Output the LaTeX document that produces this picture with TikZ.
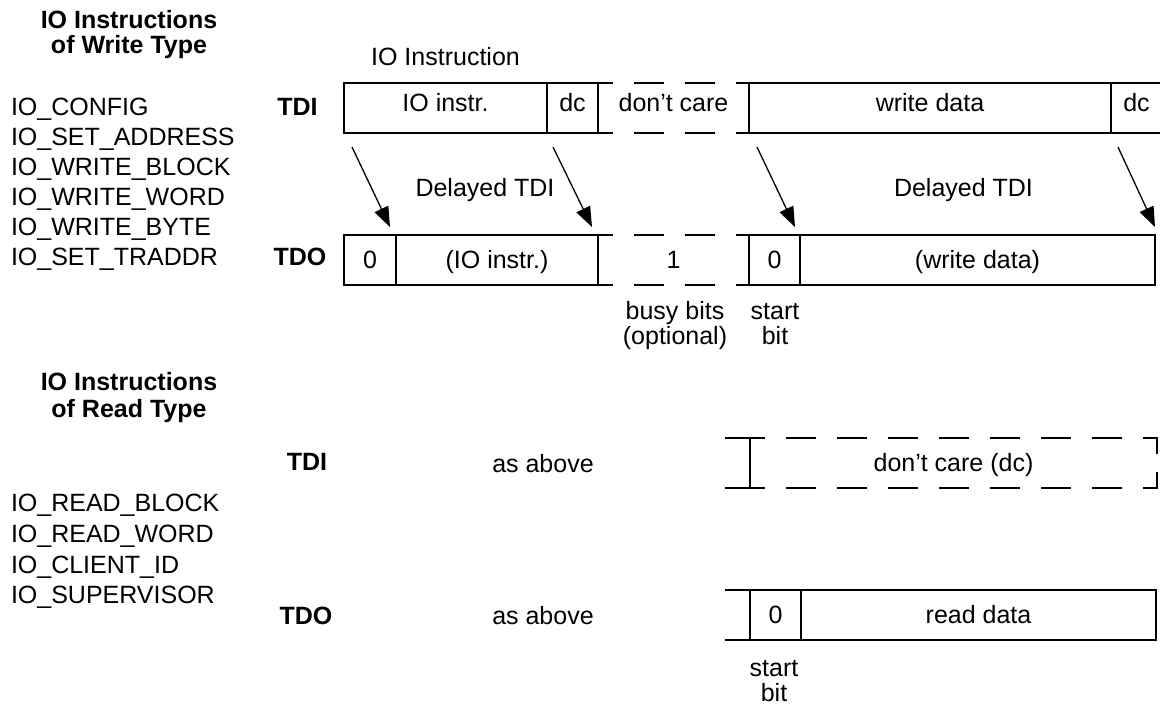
\documentclass[tikz,border=0pt]{standalone}
\usepackage{fontspec}
\setmainfont{Liberation Sans}
\usetikzlibrary{arrows.meta}

\begin{document}
\begin{tikzpicture}[
    x=1pt, y=-1pt,
    font=\fontsize{25}{29}\selectfont,
    lbl/.style={inner sep=0pt, outer sep=0pt, text height=17.9pt, text depth=0pt},
    head/.style={lbl, font=\fontsize{25}{29}\selectfont\bfseries},
    cell/.style={lbl, draw, line width=2pt, minimum height=50pt},
    gapcell/.style={lbl, minimum height=50pt},
    tdicell/.style={text depth=10pt},
    dcline/.style={line width=2pt, dash pattern=on 30pt off 21pt, dash phase=15pt},
    delay/.style={line width=1.3pt, -{Triangle[length=20pt, width=15pt]}}
]
    \useasboundingbox (0,0) rectangle (1160,705);

    % write type instructions
    \node[head] (hwa) at (129,19.5) {IO Instructions};
    \node[head] (hwb) at (129,44.5) {of Write Type};
    \foreach \cmd [count=\i from 0] in {IO\_CONFIG, IO\_SET\_ADDRESS, IO\_WRITE\_BLOCK,
        IO\_WRITE\_WORD, IO\_WRITE\_BYTE, IO\_SET\_TRADDR}
        \node[lbl, anchor=west] (w\i) at (11,107+30*\i) {\cmd};

    \node[lbl] (io) at (445.5,57) {IO Instruction};
    \node[head] (tdiw) at (297.5,107) {TDI};
    \node[head] (tdow) at (300,257) {TDO};

    % TDI shift-in
    \node[cell, tdicell, minimum width=203pt] (instr) at (445.5,108) {IO instr.};
    \node[cell, tdicell, minimum width=51pt] (dca) at (572.5,108) {dc};
    \node[gapcell, tdicell, minimum width=151pt] (dcare) at (673.5,108) {don’t care};
    \node[cell, tdicell, minimum width=362pt] (wdata) at (930,108) {write data};
    \node[cell, tdicell, minimum width=51pt] (dcb) at (1136.5,108) {dc};
    \draw[dcline] (dcare.north west) -- (dcare.north east);
    \draw[dcline] (dcare.south west) -- (dcare.south east);

    % TDO shift-out
    \node[cell, minimum width=52pt] (zero) at (370,260) {0};
    \node[cell, minimum width=202pt] (instrd) at (497,260) {(IO instr.)};
    \node[gapcell, minimum width=151pt] (busy) at (673.5,260) {1};
    \node[cell, minimum width=51pt] (start) at (774.5,260) {0};
    \node[cell, minimum width=355pt] (wdatad) at (977.5,260) {(write data)};
    \draw[dcline] (busy.north west) -- (busy.north east);
    \draw[dcline] (busy.south west) -- (busy.south east);

    % delayed copies
    \draw[delay] ([xshift=8pt, yshift=-14pt]instr.south west) -- ([xshift=-6pt, yshift=8pt]zero.north east);
    \draw[delay] ([xshift=6pt, yshift=-14pt]dca.south west) -- ([xshift=-6pt, yshift=8pt]instrd.north east);
    \draw[delay] ([xshift=8pt, yshift=-14pt]wdata.south west) -- ([xshift=-5pt, yshift=8pt]start.north east);
    \draw[delay] ([xshift=7pt, yshift=-14pt]dcb.south west) -- ([yshift=8pt]wdatad.north east);
    \node[lbl] (dly1) at (485,187.5) {Delayed TDI};
    \node[lbl] (dly2) at (963.5,187.5) {Delayed TDI};

    \node[lbl] (busya) at (675,311) {busy bits};
    \node[lbl] (busyb) at (675,336) {(optional)};
    \node[lbl] (starta) at (775,311) {start};
    \node[lbl] (startb) at (775,336) {bit};

    % read type instructions
    \node[head] (hra) at (129,381.5) {IO Instructions};
    \node[head] (hrb) at (129,409) {of Read Type};
    \foreach \cmd [count=\i from 0] in {IO\_READ\_BLOCK, IO\_READ\_WORD, IO\_CLIENT\_ID, IO\_SUPERVISOR}
        \node[lbl, anchor=west] (r\i) at (11,502.5+30.8*\i) {\cmd};

    \node[head] (tdir) at (307,462) {TDI};
    \node[head] (tdor) at (306,615.5) {TDO};
    \node[lbl] (asa) at (543,464) {as above};
    \node[lbl] (asb) at (543,616) {as above};

    % TDI: don't care
    \node[gapcell, minimum width=407pt] (rdc) at (953.5,463) {don’t care (dc)};
    \draw[line width=2pt] ([xshift=-25pt]rdc.north west) -- (rdc.north west) -- (rdc.south west) -- ([xshift=-25pt]rdc.south west);
    \draw[dcline] (rdc.north west) -- (rdc.north east) -- (rdc.east);
    \draw[dcline] (rdc.south west) -- (rdc.south east) -- (rdc.east);

    % TDO: read data
    \node[cell, minimum width=51pt] (rzero) at (775.5,615) {0};
    \node[cell, minimum width=355pt] (rdata) at (978.5,615) {read data};
    \draw[line width=2pt] ([xshift=-25pt]rzero.north west) -- (rzero.north west);
    \draw[line width=2pt] ([xshift=-25pt]rzero.south west) -- (rzero.south west);
    \node[lbl] (rstarta) at (774,667.5) {start};
    \node[lbl] (rstartb) at (774,692.5) {bit};
\end{tikzpicture}
\end{document}
